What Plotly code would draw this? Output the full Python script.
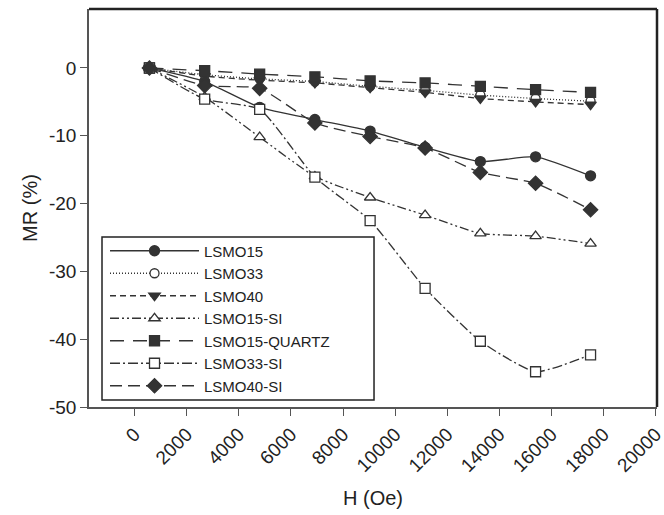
import plotly.graph_objects as go

H = [570, 2690, 4800, 6920, 9040, 11150, 13270, 15390, 17500]

series_names = ["LSMO15", "LSMO33", "LSMO40", "LSMO15-SI", "LSMO15-QUARTZ", "LSMO33-SI", "LSMO40-SI"]

mr_lsmo15 = [0, -2.0, -5.8, -7.6, -9.3, -11.7, -13.8, -13.1, -15.9]
mr_lsmo33 = [0, -1.0, -1.6, -2.0, -2.7, -3.3, -4.0, -4.5, -4.9]
mr_lsmo40 = [0, -1.2, -1.8, -2.2, -2.9, -3.6, -4.5, -5.0, -5.4]
mr_lsmo15_si = [0, -4.3, -10.2, -16.0, -19.1, -21.7, -24.4, -24.8, -25.9]
mr_lsmo15_quartz = [0, -0.4, -0.9, -1.3, -1.9, -2.2, -2.7, -3.2, -3.6]
mr_lsmo33_si = [0, -4.6, -6.1, -16.1, -22.5, -32.5, -40.3, -44.8, -42.3]
mr_lsmo40_si = [0, -2.6, -3.0, -8.1, -10.1, -11.8, -15.4, -17.0, -20.9]

x_ticks = list(range(0, 20001, 2000))
y_ticks = list(range(-50, 1, 10))

LC = "#333333"
styles = [
    (mr_lsmo15, "solid", "circle", LC, 10),
    (mr_lsmo33, "1px,2px", "circle", "white", 9),
    (mr_lsmo40, "6px,4px", "triangle-down", LC, 10),
    (mr_lsmo15_si, "9px,3px,2px,3px,2px,3px", "triangle-up", "white", 10),
    (mr_lsmo15_quartz, "14px,9px", "square", LC, 10),
    (mr_lsmo33_si, "10px,3px,2px,3px", "square", "white", 10),
    (mr_lsmo40_si, "12px,6px", "diamond", LC, 11),
]

fig = go.Figure()
for name, (vals, dash, sym, fill, size) in zip(series_names, styles):
    fig.add_trace(go.Scatter(
        x=H, y=vals, name=name, mode="lines+markers",
        line=dict(color=LC, width=1.3, dash=dash, shape="spline", smoothing=0.5),
        marker=dict(symbol=sym, size=size, color=fill, line=dict(color=LC, width=1.3)),
    ))

font = "Liberation Sans, Arial, sans-serif"
fig.update_layout(
    width=664, height=515,
    margin=dict(l=89, r=7, t=9, b=108, autoexpand=False),
    paper_bgcolor="white", plot_bgcolor="white",
    font=dict(family=font, color="#222222"),
    showlegend=True,
    legend=dict(
        x=0.0282, y=0.2224, xanchor="left", yanchor="middle",
        borderwidth=0, bgcolor="rgba(0,0,0,0)",
        font=dict(size=15, family=font, color="#222222"),
        itemwidth=89, tracegroupgap=0,
    ),
    xaxis=dict(
        range=[-1750, 20050], tickvals=x_ticks, ticktext=[str(v) for v in x_ticks],
        tickangle=-45, ticks="outside", ticklen=7, tickcolor="#555555",
        showline=True, linecolor="#555555", linewidth=1.5, showgrid=False, zeroline=False,
        automargin=False, ticklabeloverflow="allow",
        tickfont=dict(size=19), title=dict(text="H (Oe)", font=dict(size=20), standoff=16),
    ),
    yaxis=dict(
        range=[-50, 8.7], tickvals=y_ticks, ticktext=[str(v) for v in y_ticks],
        ticks="outside", ticklen=7, tickcolor="#555555",
        showline=True, linecolor="#555555", linewidth=1.5, showgrid=False, zeroline=False,
        automargin=False,
        tickfont=dict(size=19), title=dict(text="MR (%)", font=dict(size=20), standoff=6),
    ),
)
# legend frame
fig.add_shape(type="rect", xref="paper", yref="paper", x0=0.0229, x1=0.5018, y0=0.0176, y1=0.4271,
              line=dict(color="#222222", width=1.5), fillcolor="rgba(0,0,0,0)", layer="below")
# top and right frame lines
fig.add_shape(type="line", xref="paper", yref="paper", x0=0, x1=1, y0=1, y1=1,
              line=dict(color="#222222", width=2.5))
fig.add_shape(type="line", xref="paper", yref="paper", x0=1, x1=1, y0=0, y1=1,
              line=dict(color="#222222", width=2.5))

fig.write_html("out.html", config={"displayModeBar": False},
               post_script="document.body.style.margin='0';document.body.style.overflow='hidden';")
